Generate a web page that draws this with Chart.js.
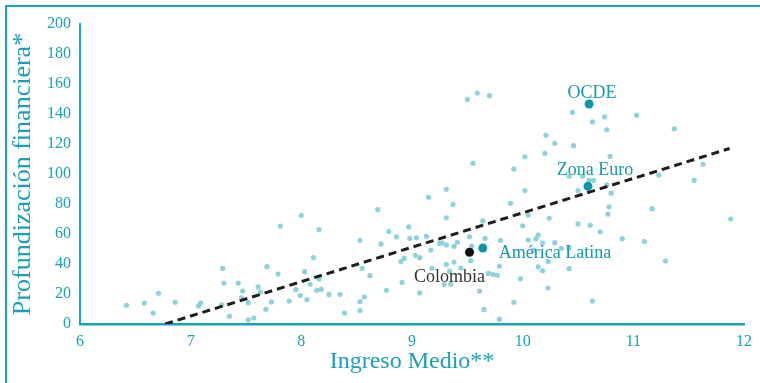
<!DOCTYPE html>
<html>
<head>
<meta charset="utf-8">
<script src="https://cdn.jsdelivr.net/npm/chart.js@4/dist/chart.umd.min.js"></script>
<style>
body { margin:0; background:#fff; }
#wrap { position:relative; width:760px; height:383px; overflow:hidden; }
#frame { position:absolute; left:5px; top:5px; right:-10px; bottom:-10px; border-top:2px solid #1aa3bb; border-left:2px solid #1aa3bb; pointer-events:none; }
</style>
</head>
<body>
<div id="wrap"><canvas id="myScatter" width="760" height="383"></canvas><div id="frame"></div></div>
<script>
// ingreso medio (x) y profundizacion financiera (y) por pais
var paisX = [6.42,6.58,6.66,6.71,6.86,7.07,7.09,7.29,7.30,7.28,7.35,7.43,7.47,7.46,7.52,7.52,7.57,7.61,7.63,7.69,
             7.68,7.73,7.79,7.81,7.89,7.95,8.00,7.99,8.16,8.11,8.03,8.16,8.08,8.18,8.14,8.05,8.25,8.35,8.39,8.53,
             8.57,8.53,8.55,8.62,8.53,8.69,8.72,8.79,8.86,8.77,8.90,8.93,8.91,8.97,8.98,9.03,9.04,9.07,9.07,9.13,
             9.15,9.17,9.18,9.25,9.27,9.31,9.31,9.31,9.31,9.29,9.37,9.38,9.34,9.35,9.41,9.38,9.44,9.52,9.53,9.54,
             9.61,9.64,9.66,9.65,9.69,9.73,9.77,9.79,9.80,9.79,9.92,9.98,9.50,9.59,9.70,9.55,9.92,9.89,10.02,10.05,
             10.24,10.00,10.05,10.12,10.14,10.18,10.29,10.35,10.42,10.10,10.23,10.14,10.18,10.42,10.23,10.63,10.50,10.61,10.70,10.90,
             11.10,11.29,11.88,10.78,10.77,11.17,10.50,10.80,10.76,10.42,10.54,10.60,10.64,11.23,11.55,11.63,10.02,10.20,10.79,10.21,
             10.29,10.46,10.45,10.63,10.74,11.03,10.76,11.37];
var paisY = [12.5,14.0,7.3,20.5,14.5,12.0,14.0,37.1,27.3,12.7,5.1,27.3,22.0,17.5,14.2,2.7,4.0,24.7,21.3,38.2,
             9.8,14.7,33.3,65.3,15.3,22.9,72.5,19.0,63.0,44.3,34.9,30.0,26.5,23.1,22.5,16.2,19.7,19.8,7.3,14.9,
             18.0,9.0,37.1,32.2,55.8,76.2,53.3,61.7,58.1,22.5,41.7,43.7,27.7,64.7,57.1,45.8,57.5,44.2,20.7,58.5,
             84.5,49.3,37.1,53.7,54.1,89.8,70.8,52.7,39.7,26.3,79.7,41.3,35.2,26.5,54.5,51.8,37.3,58.1,42.2,51.9,
             22.0,68.7,57.1,9.7,33.7,33.1,32.5,3.2,55.8,38.5,14.5,30.1,149.7,154.0,152.2,107.1,103.3,80.5,89.0,72.7,
             70.5,65.5,56.0,56.9,59.3,54.0,54.2,50.5,50.5,49.3,41.7,38.1,35.5,36.9,24.0,15.3,66.7,65.8,61.5,56.9,
             55.0,42.0,70.0,78.1,73.3,76.9,89.0,87.2,92.8,98.5,98.5,96.0,95.8,99.3,95.8,106.5,111.5,113.8,111.8,125.8,
             120.5,118.9,141.1,134.7,138.1,139.1,129.5,130.1];

// grupos destacados
var grupoNombres = ["OCDE", "Zona Euro", "América Latina", "Colombia"];
var grupoX = [10.60, 10.59, 9.64, 9.52];
var grupoY = [146.7, 91.8, 50.7, 47.8];

// linea de tendencia
var tendenciaX = [6.77, 11.87];
var tendenciaY = [0, 117];

var xTicks = [6, 7, 8, 9, 10, 11, 12];
var yTicks = [0, 20, 40, 60, 80, 100, 120, 140, 160, 180, 200];

var teal = '#1a9fb7';
var fuente = '"Liberation Serif", "DejaVu Serif", serif';

// donde va cada etiqueta respecto a su punto (px)
var etiquetaPos = [
   {dx: 3, dy: -11, align: 'center', color: '#1499ad'},
   {dx: 7, dy: -16, align: 'center', color: '#1499ad'},
   {dx: 16, dy: 5, align: 'left', color: '#1499ad'},
   {dx: -20, dy: 25, align: 'center', color: '#333333'}
];

var etiquetasPlugin = {
   id: 'etiquetas',
   afterDatasetsDraw: function(chart){
      var ctx = chart.ctx;
      var sx = chart.scales.x, sy = chart.scales.y;
      ctx.save();
      ctx.font = '18px ' + fuente;
      ctx.textBaseline = 'middle';
      for(var i=0; i<grupoNombres.length; i++){
         var p = etiquetaPos[i];
         ctx.fillStyle = p.color;
         ctx.textAlign = p.align;
         ctx.fillText(grupoNombres[i], sx.getPixelForValue(grupoX[i]) + p.dx, sy.getPixelForValue(grupoY[i]) + p.dy);
      }
      ctx.restore();
   }
};

function puntos(xs, ys){
   var out = [];
   for(var i=0; i<xs.length; i++) out.push({x: xs[i], y: ys[i]});
   return out;
}

var ctx = document.getElementById('myScatter').getContext('2d');
var myChart = new Chart(ctx, {
   type: 'scatter',
   data: {
      datasets: [
         {
            label: 'grupos',
            data: puntos(grupoX, grupoY),
            backgroundColor: ['#0a97a8', '#0a97a8', '#0a97a8', '#111111'],
            borderWidth: 0,
            pointRadius: 4.5
         },
         {
            label: 'tendencia',
            type: 'line',
            data: puntos(tendenciaX, tendenciaY),
            borderColor: '#1e1e1e',
            borderWidth: 3,
            borderDash: [8, 5],
            pointRadius: 0,
            fill: false
         },
         {
            label: 'paises',
            data: puntos(paisX, paisY),
            backgroundColor: '#8dd2dd',
            borderWidth: 0,
            pointRadius: 2.6
         }
      ]
   },
   options: {
      responsive: false,
      animation: false,
      devicePixelRatio: 1,
      layout: { padding: { left: 0, right: 13, top: 24, bottom: 0 } },
      plugins: { legend: { display: false }, tooltip: { enabled: false } },
      scales: {
         x: {
            type: 'linear', min: 6, max: 12,
            afterBuildTicks: function(s){ s.ticks = xTicks.map(function(v){ return {value: v}; }); },
            afterFit: function(s){ s.height = 59; },
            grid: { display: false, drawTicks: false },
            border: { display: true, color: '#1aa3bb', width: 2.5 },
            ticks: { color: teal, padding: 8, maxRotation: 0, font: { family: fuente, size: 16 } },
            title: { display: true, text: 'Ingreso Medio**', color: teal, padding: { top: 0, bottom: 7 },
                     font: { family: fuente, size: 24, lineHeight: 1.2 } }
         },
         y: {
            type: 'linear', min: 0, max: 200,
            afterBuildTicks: function(s){ s.ticks = yTicks.map(function(v){ return {value: v}; }); },
            afterFit: function(s){ s.width = 80; },
            grid: { display: false, drawTicks: false },
            border: { display: true, color: '#1aa3bb', width: 2 },
            ticks: { color: teal, padding: 9, font: { family: fuente, size: 16 } },
            title: { display: true, text: 'Profundización financiera*', color: teal, padding: { top: 8, bottom: 0 },
                     font: { family: fuente, size: 26, lineHeight: 1.2 } }
         }
      }
   },
   plugins: [etiquetasPlugin]
});
</script>
</body>
</html>
